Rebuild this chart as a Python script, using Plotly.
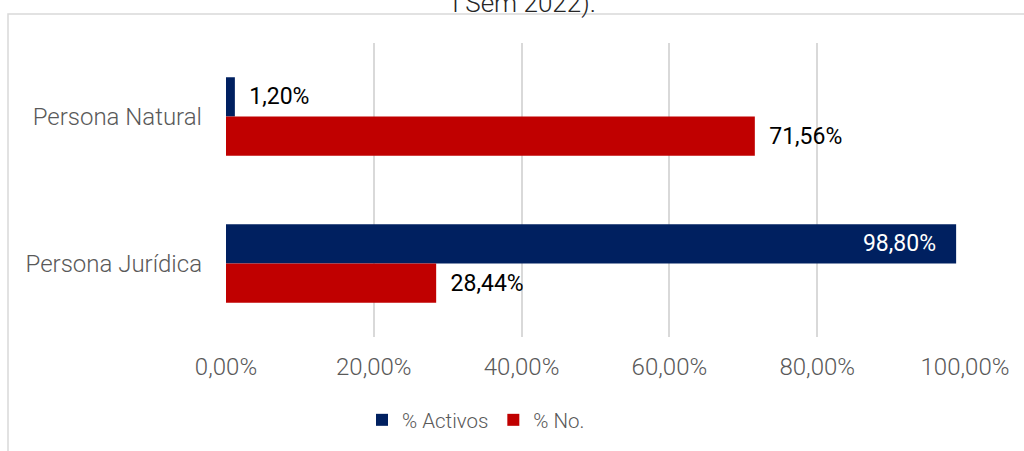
import plotly.graph_objects as go

# Data
categories = ["Persona Natural", "Persona Jurídica"]
activos = [0.012, 0.988]
no_pct = [0.7156, 0.2844]
tick_vals = [0, 0.2, 0.4, 0.6, 0.8, 1.0]

BLUE = "#002060"
RED = "#C00000"
GREY = "#595959"
FONT = "Roboto"

fig = go.Figure()

fig.add_trace(go.Bar(
    y=categories,
    x=activos,
    orientation="h",
    name="% Activos",
    marker=dict(color=BLUE, line=dict(width=0)),
    texttemplate=["  %{x:.2%}", "%{x:.2%}   "],
    textposition=["outside", "inside"],
    insidetextanchor="end",
    outsidetextfont=dict(family=FONT, size=23, color="black"),
    insidetextfont=dict(family=FONT, size=23, color="white"),
    cliponaxis=False,
))

fig.add_trace(go.Bar(
    y=categories,
    x=no_pct,
    orientation="h",
    name="% No.",
    marker=dict(color=RED, line=dict(width=0)),
    texttemplate="  %{x:.2%}",
    textposition="outside",
    outsidetextfont=dict(family=FONT, size=23, color="black"),
    cliponaxis=False,
))

# Outer chart frame (cropped)
fig.add_shape(
    type="rect", xref="paper", yref="paper",
    x0=-0.295, x1=1.3, y0=-0.6, y1=1.0986,
    line=dict(color="#d9d9d9", width=1.5),
    fillcolor="rgba(0,0,0,0)", layer="below",
)

# Title, cut at top of the image
fig.add_annotation(
    text="I Sem 2022).",
    xref="paper", yref="paper",
    x=(524 - 226) / 739, y=1.137, xanchor="center", yanchor="middle",
    showarrow=False,
    font=dict(family=FONT, size=26, color="#262626", weight=300),
)

fig.update_layout(
    width=1024,
    height=451,
    margin=dict(l=226, r=59, t=43, b=114),
    paper_bgcolor="white",
    plot_bgcolor="white",
    barmode="group",
    bargap=0.466,
    bargroupgap=0,
    separators=",.",
    showlegend=True,
    legend=dict(
        orientation="h",
        xref="container", yref="container",
        x=362 / 1024, y=1 - 420 / 451,
        xanchor="left", yanchor="middle",
        font=dict(family=FONT, size=20.5, color=GREY, weight=300),
    ),
    xaxis=dict(
        range=[0, 1.0],
        tickmode="array",
        tickvals=tick_vals,
        tickformat=".2%",
        showgrid=True,
        gridcolor="#d9d9d9",
        gridwidth=1.5,
        zeroline=False,
        showline=False,
        ticks="",
        ticklabelstandoff=13,
        tickfont=dict(family=FONT, size=24, color=GREY, weight=300),
    ),
    yaxis=dict(
        autorange="reversed",
        showgrid=False,
        zeroline=False,
        showline=False,
        ticks="",
        ticklabelstandoff=23,
        tickfont=dict(family=FONT, size=24, color=GREY, weight=300),
    ),
)

# page body has a default 8px margin; drop it so the figure sits at (0, 0)
fig.write_html(
    "out.html",
    config={"displayModeBar": False},
    post_script="document.body.style.margin = '0';",
)
